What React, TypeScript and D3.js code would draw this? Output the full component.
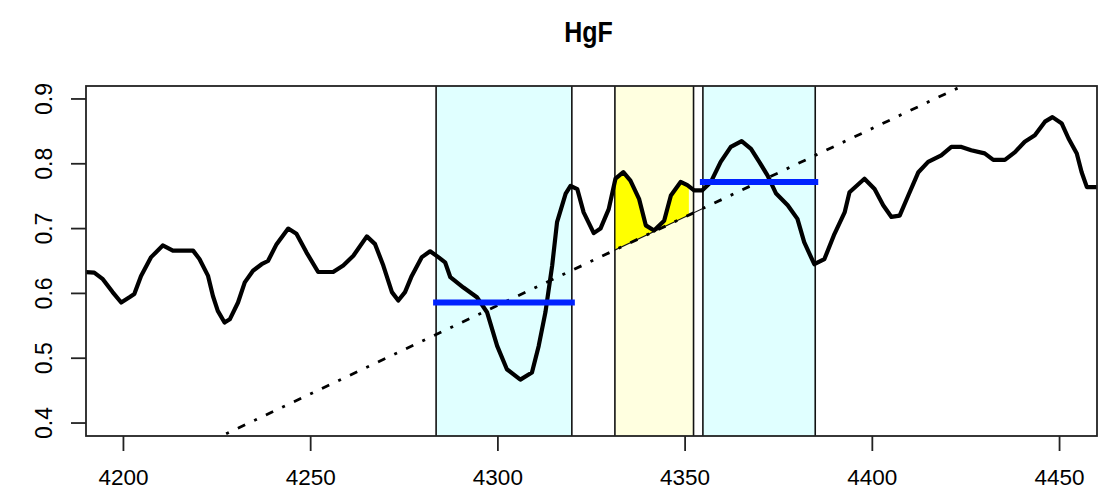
import React from "react";
import * as d3 from "d3";

// ---- data ----
const title = "HgF";
const wavelength = [
  4190.0, 4192.2, 4194.5, 4197.1, 4199.4, 4201.6, 4202.9, 4204.7, 4207.4, 4210.5,
  4213.2, 4218.6, 4220.3, 4222.6, 4223.9, 4225.2, 4227.0, 4228.4, 4230.6, 4232.4,
  4234.6, 4236.9, 4238.6, 4240.9, 4244.0, 4246.2, 4248.9, 4252.0, 4256.0, 4258.7,
  4261.4, 4265.0, 4267.2, 4269.4, 4271.7, 4273.4, 4275.2, 4277.0, 4279.7, 4281.9,
  4284.1, 4285.9, 4287.3, 4290.8, 4294.4, 4297.1, 4299.8, 4302.4, 4306.0, 4309.1,
  4310.9, 4312.7, 4314.5, 4315.8, 4318.1, 4319.4, 4321.2, 4322.9, 4325.6, 4327.4,
  4329.6, 4331.4, 4333.5, 4335.4, 4337.7, 4339.5, 4341.7, 4344.4, 4346.2, 4348.8,
  4350.6, 4352.4, 4354.6, 4356.9, 4359.5, 4362.2, 4365.1, 4367.6, 4369.8, 4372.0,
  4374.3, 4377.4, 4380.0, 4381.8, 4384.5, 4387.2, 4389.9, 4392.6, 4393.9, 4397.9,
  4400.6, 4402.9, 4405.1, 4407.3, 4409.6, 4412.3, 4414.9, 4418.4, 4421.1, 4423.8,
  4426.4, 4430.0, 4432.3, 4435.4, 4438.1, 4440.7, 4443.4, 4446.1, 4448.1, 4450.6,
  4452.4, 4454.6, 4455.9, 4457.3, 4459.9,
];
const flux = [
  0.633, 0.632, 0.622, 0.602, 0.586, 0.594, 0.599, 0.627, 0.656, 0.674,
  0.666, 0.666, 0.653, 0.627, 0.596, 0.573, 0.555, 0.560, 0.586, 0.617,
  0.635, 0.645, 0.650, 0.676, 0.700, 0.692, 0.663, 0.633, 0.633, 0.643,
  0.658, 0.688, 0.676, 0.643, 0.602, 0.589, 0.602, 0.627, 0.656, 0.665,
  0.656, 0.648, 0.625, 0.609, 0.594, 0.571, 0.519, 0.483, 0.467, 0.478,
  0.519, 0.571, 0.643, 0.710, 0.754, 0.766, 0.761, 0.725, 0.693, 0.700,
  0.730, 0.777, 0.787, 0.774, 0.746, 0.705, 0.697, 0.712, 0.751, 0.772,
  0.767, 0.759, 0.759, 0.772, 0.803, 0.826, 0.835, 0.823, 0.803, 0.782,
  0.754, 0.736, 0.715, 0.679, 0.645, 0.653, 0.692, 0.725, 0.756, 0.777,
  0.761, 0.736, 0.718, 0.720, 0.751, 0.787, 0.803, 0.813, 0.826, 0.826,
  0.821, 0.816, 0.806, 0.806, 0.818, 0.834, 0.844, 0.865, 0.872, 0.862,
  0.839, 0.816, 0.787, 0.764, 0.764,
];
// Lick HgF bandpasses
const blueBand = [4283.5, 4319.75];
const centralBand = [4331.25, 4352.25];
const redBand = [4354.75, 4384.75];
const blueLevel = 0.586;
const redLevel = 0.772;
const fillEnd = 4351.0;
const xTicks = [4200, 4250, 4300, 4350, 4400, 4450];
const yTicks = [0.4, 0.5, 0.6, 0.7, 0.8, 0.9];
const xDomain = [4190, 4460];
const yDomain = [0.38, 0.92];

const W = 1107;
const H = 489;
const M = { left: 86, right: 1097, top: 86, bottom: 436 };
const FONT = "'Liberation Sans', Arial, Helvetica, sans-serif";

export default function App() {
  const x = d3.scaleLinear().domain(xDomain).range([M.left, M.right]);
  const y = d3.scaleLinear().domain(yDomain).range([M.bottom, M.top]);

  const pts: [number, number][] = wavelength.map((w, i) => [w, flux[i]]);
  const line = d3
    .line<[number, number]>()
    .x((d) => x(d[0]))
    .y((d) => y(d[1]));

  const bis = d3.bisector((d: [number, number]) => d[0]).left;
  const fluxAt = (w: number) => {
    const i = Math.max(1, Math.min(pts.length - 1, bis(pts, w)));
    const a = pts[i - 1];
    const b = pts[i];
    const t = (w - a[0]) / (b[0] - a[0]);
    return a[1] + t * (b[1] - a[1]);
  };

  const bMid = (blueBand[0] + blueBand[1]) / 2;
  const rMid = (redBand[0] + redBand[1]) / 2;
  const slope = (redLevel - blueLevel) / (rMid - bMid);
  const cont = (w: number) => blueLevel + (w - bMid) * slope;

  const polyPts = (a: number, b: number): [number, number][] => {
    const top: [number, number][] = [[a, fluxAt(a)]];
    pts.forEach((p) => {
      if (p[0] > a && p[0] < b) top.push(p);
    });
    top.push([b, fluxAt(b)]);
    return [...top, [b, cont(b)], [a, cont(a)]];
  };
  const polyPath = (p: [number, number][]) =>
    "M" + p.map((d) => `${x(d[0])},${y(d[1])}`).join("L") + "Z";

  const fillPoly = polyPath(polyPts(centralBand[0], fillEnd));
  const outlinePoly = polyPath(polyPts(centralBand[0], redBand[0]));

  const cx0 = xDomain[0];
  const cx1 = xDomain[1];

  const bands = [
    { r: blueBand, c: "#E0FFFF" },
    { r: centralBand, c: "#FFFFE0" },
    { r: redBand, c: "#E0FFFF" },
  ];

  return (
    <svg
      width={W}
      height={H}
      style={{ position: "absolute", left: 0, top: 0, display: "block", background: "#fff" }}
    >
      <defs>
        <clipPath id="plotclip">
          <rect x={M.left} y={M.top} width={M.right - M.left} height={M.bottom - M.top} />
        </clipPath>
      </defs>
      <text
        transform={`translate(${(M.left + M.right) / 2 - 3},42) scale(1,1.2)`}
        textAnchor="middle"
        fontFamily={FONT}
        fontWeight="bold"
        fontSize={25}
      >
        {title}
      </text>

      <g clipPath="url(#plotclip)">
        {bands.map((b, i) => (
          <rect
            key={i}
            x={x(b.r[0])}
            y={M.top}
            width={x(b.r[1]) - x(b.r[0])}
            height={M.bottom - M.top}
            fill={b.c}
          />
        ))}
        {[...blueBand, ...centralBand, ...redBand].map((w, i) => (
          <line key={i} x1={x(w)} x2={x(w)} y1={M.top} y2={M.bottom} stroke="#111" strokeWidth={1.6} />
        ))}
        <path d={fillPoly} fill="#FFFF00" stroke="none" />
        <path d={outlinePoly} fill="none" stroke="#111" strokeWidth={1.2} />
        <line
          x1={x(cx0)}
          y1={y(cont(cx0))}
          x2={x(cx1)}
          y2={y(cont(cx1))}
          stroke="#000"
          strokeWidth={2.8}
          strokeDasharray="3,10,8,10"
        />
        <path
          d={line(pts) || ""}
          fill="none"
          stroke="#000"
          strokeWidth={4.2}
          strokeLinejoin="round"
          strokeLinecap="round"
        />
      </g>
      <line x1={x(blueBand[0])} x2={x(blueBand[1])} y1={y(blueLevel)} y2={y(blueLevel)} stroke="#0022FF" strokeWidth={6} strokeLinecap="square" />
      <line x1={x(redBand[0])} x2={x(redBand[1])} y1={y(redLevel)} y2={y(redLevel)} stroke="#0022FF" strokeWidth={6} strokeLinecap="square" />

      <rect
        x={M.left}
        y={M.top}
        width={M.right - M.left}
        height={M.bottom - M.top}
        fill="none"
        stroke="#222"
        strokeWidth={1.8}
      />
      {xTicks.map((t) => (
        <g key={t}>
          <line x1={x(t)} x2={x(t)} y1={M.bottom} y2={M.bottom + 15} stroke="#222" strokeWidth={1.8} />
          <text x={x(t)} y={485} textAnchor="middle" fontFamily={FONT} fontSize={22.5}>
            {t}
          </text>
        </g>
      ))}
      {yTicks.map((t) => (
        <g key={t}>
          <line x1={M.left - 15} x2={M.left} y1={y(t)} y2={y(t)} stroke="#222" strokeWidth={1.8} />
          <text
            transform={`translate(51.5,${y(t)}) rotate(-90)`}
            textAnchor="middle"
            fontFamily={FONT}
            fontSize={23}
          >
            {t.toFixed(1)}
          </text>
        </g>
      ))}
    </svg>
  );
}
